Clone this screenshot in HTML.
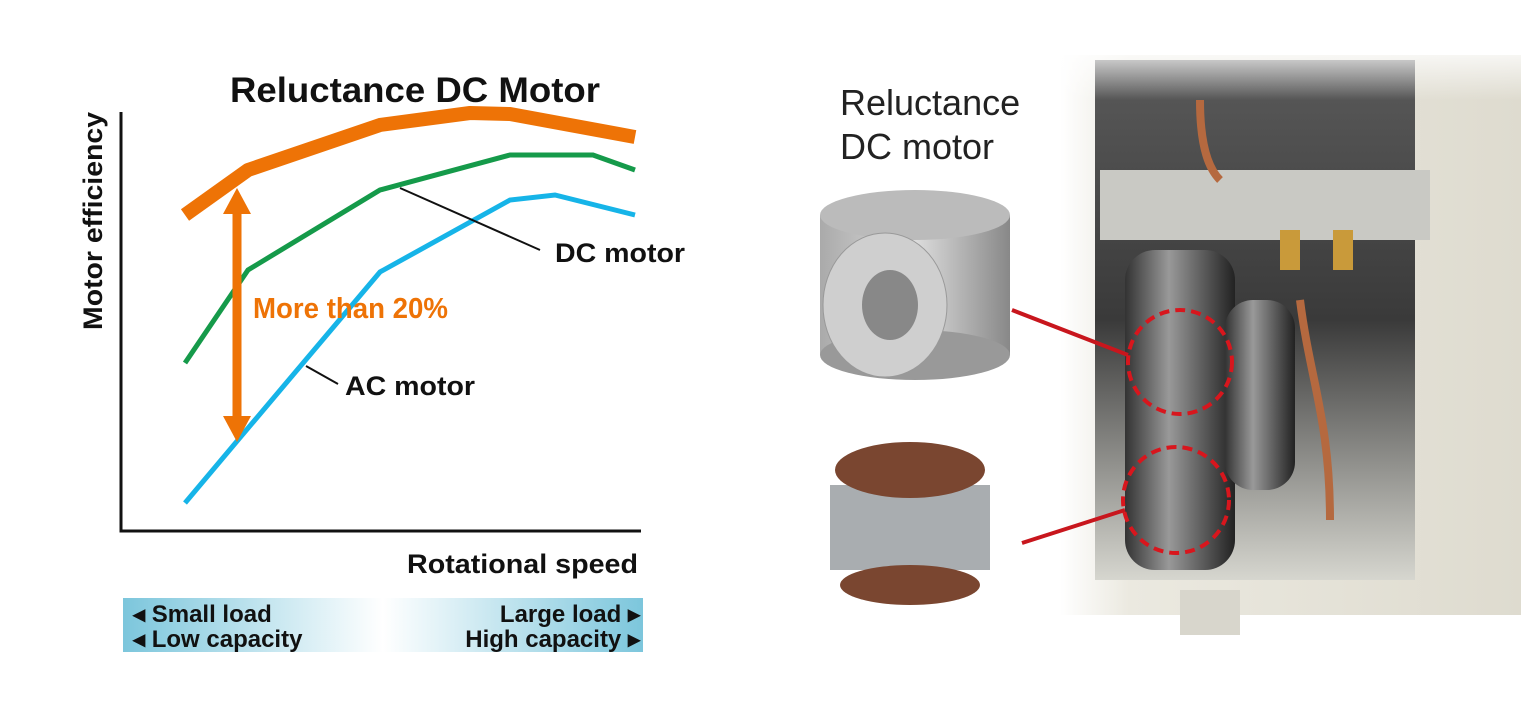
<!DOCTYPE html>
<html><head><style>
body{margin:0;width:1521px;height:711px;background:#fff;overflow:hidden;font-family:"Liberation Sans",sans-serif;}
</style></head><body>
<svg width="1521" height="711" viewBox="0 0 1521 711" xmlns="http://www.w3.org/2000/svg" style="position:absolute;left:0;top:0">
<defs>
<linearGradient id="bar" x1="0" x2="1"><stop offset="0" stop-color="#7cc6dc"/><stop offset="0.5" stop-color="#ffffff"/><stop offset="1" stop-color="#7cc6dc"/></linearGradient>
<linearGradient id="cab" x1="0" x2="1"><stop offset="0" stop-color="#fff"/><stop offset="0.15" stop-color="#ebe9e0"/><stop offset="1" stop-color="#dedbcf"/></linearGradient>
<linearGradient id="inner" x1="0" x2="0" y1="0" y2="1"><stop offset="0" stop-color="#5a5a5a"/><stop offset="0.5" stop-color="#3a3a3a"/><stop offset="1" stop-color="#d6d6cf"/></linearGradient>
<linearGradient id="tank" x1="0" x2="1"><stop offset="0" stop-color="#333"/><stop offset="0.4" stop-color="#999"/><stop offset="1" stop-color="#222"/></linearGradient>
<linearGradient id="rotor" x1="0" x2="1"><stop offset="0" stop-color="#aaa"/><stop offset="0.5" stop-color="#ddd"/><stop offset="1" stop-color="#888"/></linearGradient>
<linearGradient id="fade" x1="0" x2="0" y1="0" y2="1"><stop offset="0" stop-color="#fff"/><stop offset="1" stop-color="#fff" stop-opacity="0"/></linearGradient>
</defs>
<text x="415" y="102" font-size="35" font-weight="bold" text-anchor="middle" fill="#111" textLength="370" lengthAdjust="spacingAndGlyphs">Reluctance DC Motor</text>
<path d="M121 112 V531 H641" fill="none" stroke="#111" stroke-width="3"/>
<text transform="translate(102,221) rotate(-90)" font-size="27" font-weight="bold" text-anchor="middle" fill="#111" textLength="218" lengthAdjust="spacingAndGlyphs">Motor efficiency</text>
<polyline points="185,215 248,170 380,125 470,113 510,114 635,137" fill="none" stroke="#ee7306" stroke-width="14" stroke-linejoin="round"/>
<polyline points="185,363 248,270 380,190 510,155 593,155 635,170" fill="none" stroke="#159a4a" stroke-width="5"/>
<polyline points="185,503 238,440 380,272 510,200 555,195 635,215" fill="none" stroke="#16b4e8" stroke-width="5"/>
<line x1="237" y1="210" x2="237" y2="420" stroke="#ee7306" stroke-width="9"/>
<polygon points="237,188 223,214 251,214" fill="#ee7306"/>
<polygon points="237,442 223,416 251,416" fill="#ee7306"/>
<text x="253" y="318" font-size="29" font-weight="bold" fill="#ee7306" textLength="195" lengthAdjust="spacingAndGlyphs">More than 20%</text>
<line x1="400" y1="188" x2="540" y2="250" stroke="#111" stroke-width="2"/>
<text x="555" y="262" font-size="27" font-weight="bold" fill="#111" textLength="130" lengthAdjust="spacingAndGlyphs">DC motor</text>
<line x1="306" y1="366" x2="338" y2="384" stroke="#111" stroke-width="2"/>
<text x="345" y="395" font-size="27" font-weight="bold" fill="#111" textLength="130" lengthAdjust="spacingAndGlyphs">AC motor</text>
<text x="638" y="573" font-size="27" font-weight="bold" text-anchor="end" fill="#111" textLength="231" lengthAdjust="spacingAndGlyphs">Rotational speed</text>
<rect x="123" y="598" width="520" height="54" fill="url(#bar)"/>
<text x="133" y="622" font-size="24" font-weight="bold" fill="#111">◂ Small load</text>
<text x="133" y="647" font-size="24" font-weight="bold" fill="#111">◂ Low capacity</text>
<text x="640" y="622" font-size="24" font-weight="bold" text-anchor="end" fill="#111">Large load ▸</text>
<text x="640" y="647" font-size="24" font-weight="bold" text-anchor="end" fill="#111">High capacity ▸</text>
<rect x="1060" y="55" width="461" height="560" fill="url(#cab)"/>
<rect x="1095" y="60" width="320" height="520" fill="url(#inner)"/>
<rect x="1100" y="170" width="330" height="70" fill="#c9c9c4"/>
<rect x="1125" y="250" width="110" height="320" rx="30" fill="url(#tank)"/>
<rect x="1225" y="300" width="70" height="190" rx="28" fill="url(#tank)"/>
<rect x="1280" y="230" width="20" height="40" fill="#c99a3a"/>
<rect x="1333" y="230" width="20" height="40" fill="#c99a3a"/>
<path d="M1300 300 C1310 380 1330 420 1330 520" stroke="#b5693f" stroke-width="8" fill="none"/>
<path d="M1200 100 C1200 150 1210 170 1220 180" stroke="#b5693f" stroke-width="8" fill="none"/>
<rect x="1180" y="590" width="60" height="45" fill="#d8d6cc"/>
<rect x="1060" y="40" width="461" height="60" fill="url(#fade)"/>
<text x="840" y="115" font-size="36" fill="#222">Reluctance</text>
<text x="840" y="159" font-size="36" fill="#222">DC motor</text>
<rect x="820" y="215" width="190" height="140" fill="url(#rotor)"/>
<ellipse cx="915" cy="215" rx="95" ry="25" fill="#bbb"/>
<ellipse cx="915" cy="355" rx="95" ry="25" fill="#999"/>
<ellipse cx="885" cy="305" rx="62" ry="72" fill="#cfcfcf" stroke="#999"/>
<ellipse cx="890" cy="305" rx="28" ry="35" fill="#888"/>
<rect x="830" y="485" width="160" height="85" fill="#a9adb0"/>
<ellipse cx="910" cy="470" rx="75" ry="28" fill="#7a4630"/>
<ellipse cx="910" cy="585" rx="70" ry="20" fill="#7a4630"/>
<line x1="1012" y1="310" x2="1128" y2="355" stroke="#c8161d" stroke-width="4"/>
<line x1="1022" y1="543" x2="1125" y2="510" stroke="#c8161d" stroke-width="4"/>
<circle cx="1180" cy="362" r="52" fill="none" stroke="#d8161d" stroke-width="4" stroke-dasharray="10 6"/>
<circle cx="1176" cy="500" r="53" fill="none" stroke="#d8161d" stroke-width="4" stroke-dasharray="10 6"/>
</svg>
</body></html>
